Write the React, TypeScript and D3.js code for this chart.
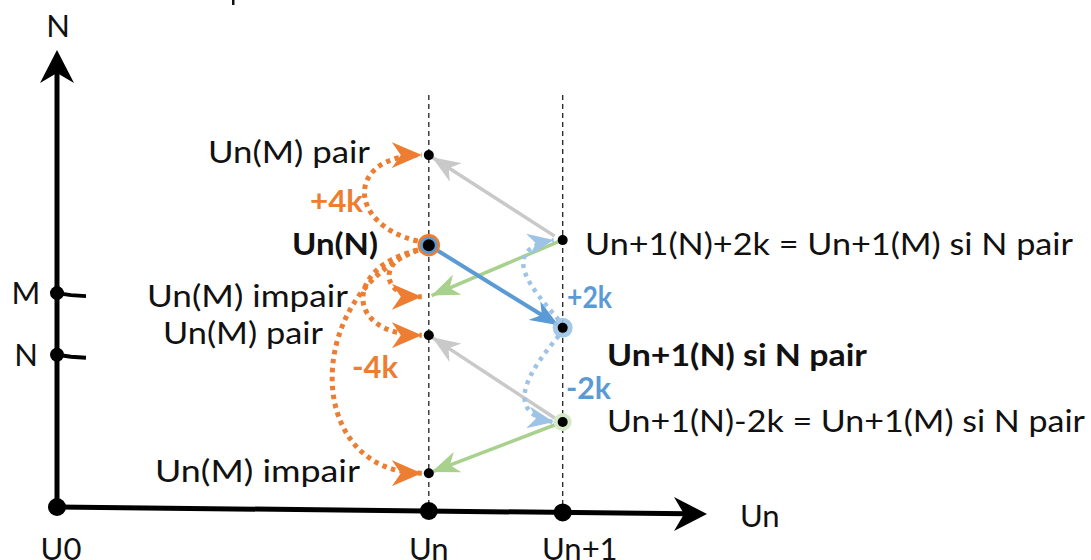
import React from "react";
import * as d3 from "d3";

// ---- data (diagram units) ----
const X_TICKS = [
  { label: "U0", v: 0 },
  { label: "Un", v: 57.2 },
  { label: "Un+1", v: 77.8 },
];
const Y_TICKS = [
  { label: "M", v: 46.8 },
  { label: "N", v: 33.3 },
];
// points on the Un column (top to bottom)
const UN_LEVELS = [77.0, 57.3, 46.0, 37.6, 7.4];
const UN_LABELS = ["Un(M) pair", "Un(N)", "Un(M) impair", "Un(M) pair", "Un(M) impair"];
// points on the Un+1 column
const UN1_LEVELS = [58.4, 39.2, 18.6];
const UN1_LABELS = [
  "Un+1(N)+2k = Un+1(M) si N pair",
  "Un+1(N) si N pair",
  "Un+1(N)-2k = Un+1(M) si N pair",
];
// jumps on the Un column (from index 1, Un(N))
const ORANGE_ARCS = [
  { to: 0, bend: 72 },
  { to: 2, bend: 40 },
  { to: 3, bend: 74 },
  { to: 4, bend: 114 },
];
const ORANGE_LABELS = ["+4k", "-4k"];
const BLUE_ARCS = [
  { to: 0, bend: 52 },
  { to: 2, bend: 50 },
];
const BLUE_LABELS = ["+2k", "-2k"];
const GRAY_LINKS = [
  { from: 0, to: 0 },
  { from: 2, to: 3 },
];
const GREEN_LINKS = [
  { from: 0, to: 2 },
  { from: 2, to: 4 },
];

// ---- layout ----
const W = 1091;
const H = 560;
const ORANGE = "#ed7d31";
const BLUE = "#5b9bd5";
const LBLUE = "#9dc3e6";
const GRAY = "#c9c9c9";
const GREEN = "#a9d18e";
const FONT = "Lato, 'Open Sans', sans-serif";
const FS = 31;

// label boxes: [x start, width, baseline]
const UN_LABEL_BOX = [
  [208, 162, 163],
  [292, 86, 255],
  [147, 201, 307],
  [163, 160, 344],
  [155, 205, 482],
];
const UN1_LABEL_BOX = [
  [585, 488, 255],
  [607, 260, 366],
  [607, 478, 432],
];
const ORANGE_LABEL_BOX = [
  [310, 53, 212],
  [352, 46, 378],
];
const BLUE_LABEL_BOX = [
  [567, 45, 308],
  [566, 45, 399],
];

export default function App() {
  const x = d3.scaleLinear().domain([0, 100]).range([57, 707]);
  const y = d3.scaleLinear().domain([0, 100]).range([507, 50]);
  // the horizontal axis is drawn very slightly tilted, as in the source
  const axisY = (px: number) => 507 + ((px - 57) * 7) / 650;
  const xUn = x(X_TICKS[1].v);
  const xUn1 = x(X_TICKS[2].v);

  const shorten = (x1: number, y1: number, x2: number, y2: number, a: number, b: number) => {
    const dx = x2 - x1, dy = y2 - y1;
    const L = Math.hypot(dx, dy);
    return [x1 + (dx * a) / L, y1 + (dy * a) / L, x2 - (dx * b) / L, y2 - (dy * b) / L];
  };

  const arcPath = (ax: number, ay: number, bx: number, by: number, bend: number) => {
    const p = d3.path();
    p.moveTo(ax, ay);
    p.bezierCurveTo(ax - bend, ay + (by - ay) * 0.2, bx - bend * 1.05, by, bx, by);
    return p.toString();
  };

  const hookPath = (ax: number, ay: number, bx: number, by: number, bend: number) => {
    const p = d3.path();
    const dir = Math.sign(by - ay);
    p.moveTo(ax, ay);
    p.bezierCurveTo(ax - bend * 0.5, ay + dir * 30, bx - bend * 1.1, by - dir * 10, bx, by);
    return p.toString();
  };

  const marker = (id: string, color: string, w: number, h: number) => (
    <marker
      id={id}
      markerUnits="userSpaceOnUse"
      viewBox={`0 0 ${w} ${h}`}
      refX={w}
      refY={h / 2}
      markerWidth={w}
      markerHeight={h}
      orient="auto"
    >
      <path d={`M0,0 L${w},${h / 2} L0,${h} L${w * 0.3},${h / 2} Z`} fill={color} />
    </marker>
  );

  const txt = (s: string, tx: number, ty: number, anchor: string, opts: any = {}) => (
    <text
      x={tx}
      y={ty}
      textAnchor={anchor}
      fontFamily={FONT}
      fontSize={opts.size || FS}
      fontWeight={opts.bold ? 700 : 400}
      fill={opts.color || "#111"}
      textLength={opts.len}
      lengthAdjust={opts.len ? "spacingAndGlyphs" : undefined}
    >
      {s}
    </text>
  );

  const yUnN = y(UN_LEVELS[1]);

  return (
    <svg width={W} height={H} style={{ position: "absolute", left: 0, top: 0, background: "#fff" }}>
      <defs>
        {marker("mOrange", ORANGE, 30, 26)}
        {marker("mBlue", BLUE, 28, 22)}
        {marker("mLBlue", LBLUE, 26, 22)}
        {marker("mGray", GRAY, 28, 22)}
        {marker("mGreen", GREEN, 28, 22)}
      </defs>
      <rect x={0} y={0} width={W} height={H} fill="#fff" />
      {/* stray mark top */}
      <rect x={232} y={0} width={2.5} height={5} fill="#111" />

      {/* dashed vertical guides */}
      {[xUn, xUn1].map((gx, i) => (
        <line key={i} x1={gx} x2={gx} y1={95} y2={axisY(gx)} stroke="#222" strokeWidth={1.3} strokeDasharray="5 4" />
      ))}

      {/* axes */}
      <line x1={x(0)} y1={axisY(x(0))} x2={x(0)} y2={y(100) + 20} stroke="#000" strokeWidth={5} />
      <path
        d={`M${x(0)},${y(100)} L${x(0) - 17},${y(100) + 33} L${x(0)},${y(100) + 23} L${x(0) + 17},${y(100) + 33} Z`}
        fill="#000"
      />
      <line x1={x(0)} y1={axisY(x(0))} x2={x(100) - 20} y2={axisY(x(100) - 20)} stroke="#000" strokeWidth={5} />
      <path
        d={`M${x(100)},${axisY(x(100))} L${x(100) - 33},${axisY(x(100)) - 17} L${x(100) - 23},${axisY(x(100))} L${x(100) - 33},${axisY(x(100)) + 17} Z`}
        fill="#000"
      />
      {txt("N", x(0) + 1, 37, "middle")}
      {txt("Un", 740, 527, "start")}

      {/* x ticks */}
      {X_TICKS.map((t, i) => (
        <g key={t.label}>
          <circle cx={x(t.v)} cy={axisY(x(t.v))} r={9} fill="#000" />
          {txt(t.label, i === 2 ? 542 : x(t.v) + (i === 0 ? 4 : 0), 560, i === 2 ? "start" : "middle")}
        </g>
      ))}
      {/* y ticks */}
      {Y_TICKS.map((t) => (
        <g key={t.label}>
          <circle cx={x(0)} cy={y(t.v)} r={7} fill="#000" />
          <path
            d={`M${x(0)},${y(t.v)} L${x(0) + 14},${y(t.v) + 2} L${x(0) + 29},${y(t.v) + 3}`}
            stroke="#000"
            strokeWidth={4}
            fill="none"
          />
          {txt(t.label, 26, y(t.v) + 11, "middle")}
        </g>
      ))}

      {/* gray links Un+1 -> Un */}
      {GRAY_LINKS.map((l, i) => {
        const [a, b, c, d] = shorten(xUn1 - 8, y(UN1_LEVELS[l.from]) - 4, xUn, y(UN_LEVELS[l.to]), 0, 4);
        return <line key={i} x1={a} y1={b} x2={c} y2={d} stroke={GRAY} strokeWidth={3.5} markerEnd="url(#mGray)" />;
      })}
      {/* green links */}
      {GREEN_LINKS.map((l, i) => {
        const [a, b, c, d] = shorten(xUn1 - 3, y(UN1_LEVELS[l.from]) + 1, xUn, y(UN_LEVELS[l.to]), 0, 3);
        return <line key={i} x1={a} y1={b} x2={c} y2={d} stroke={GREEN} strokeWidth={3.5} markerEnd="url(#mGreen)" />;
      })}
      {/* blue solid arrow Un(N) -> Un+1(N) */}
      {(() => {
        const [a, b, c, d] = shorten(xUn, yUnN, xUn1, y(UN1_LEVELS[1]), 6, 5);
        return <line x1={a} y1={b} x2={c} y2={d} stroke={BLUE} strokeWidth={4} markerEnd="url(#mBlue)" />;
      })()}
      {/* blue dotted arcs */}
      {BLUE_ARCS.map((a, i) => {
        const ay = y(UN1_LEVELS[1]) + (a.to === 0 ? -8 : 8);
        const by = y(UN1_LEVELS[a.to]);
        const [bx, w, bl] = BLUE_LABEL_BOX[i];
        return (
          <g key={i}>
            <path
              d={hookPath(xUn1 - 4, ay, xUn1 - 9, by, a.bend)}
              fill="none"
              stroke={LBLUE}
              strokeWidth={4.5}
              strokeDasharray="4 5"
              markerEnd="url(#mLBlue)"
            />
            {txt(BLUE_LABELS[i], bx, bl, "start", { bold: true, color: BLUE, len: w })}
          </g>
        );
      })}
      {/* orange dotted arcs */}
      {ORANGE_ARCS.map((a, i) => (
        <path
          key={i}
          d={arcPath(xUn - 11, yUnN + (a.to === 0 ? -4 : 5), xUn - 7, y(UN_LEVELS[a.to]), a.bend)}
          fill="none"
          stroke={ORANGE}
          strokeWidth={5}
          strokeDasharray="4.5 4.5"
          markerEnd="url(#mOrange)"
        />
      ))}
      {ORANGE_LABELS.map((s, i) => {
        const [bx, w, bl] = ORANGE_LABEL_BOX[i];
        return <g key={s}>{txt(s, bx, bl, "start", { bold: true, color: ORANGE, len: w })}</g>;
      })}

      {/* Un points */}
      {UN_LEVELS.map((v, i) => {
        const [bx, w, bl] = UN_LABEL_BOX[i];
        return (
          <g key={i}>
            {i === 1 && <circle cx={xUn} cy={y(v)} r={10} fill={BLUE} stroke={ORANGE} strokeWidth={2.5} />}
            {i !== 2 && <circle cx={xUn} cy={y(v)} r={i === 1 ? 6 : 5} fill="#000" />}
            {txt(UN_LABELS[i], bx, bl, "start", { bold: i === 1, len: w })}
          </g>
        );
      })}
      {/* Un+1 points */}
      {UN1_LEVELS.map((v, i) => {
        const [bx, w, bl] = UN1_LABEL_BOX[i];
        return (
          <g key={i}>
            {i === 1 && <circle cx={xUn1} cy={y(v)} r={10} fill={LBLUE} opacity={0.9} />}
            {i === 2 && <circle cx={xUn1} cy={y(v)} r={9} fill="#d5e8c8" />}
            <circle cx={xUn1} cy={y(v)} r={5} fill="#000" />
            {txt(UN1_LABELS[i], bx, bl, "start", { bold: i === 1, len: w })}
          </g>
        );
      })}
    </svg>
  );
}
